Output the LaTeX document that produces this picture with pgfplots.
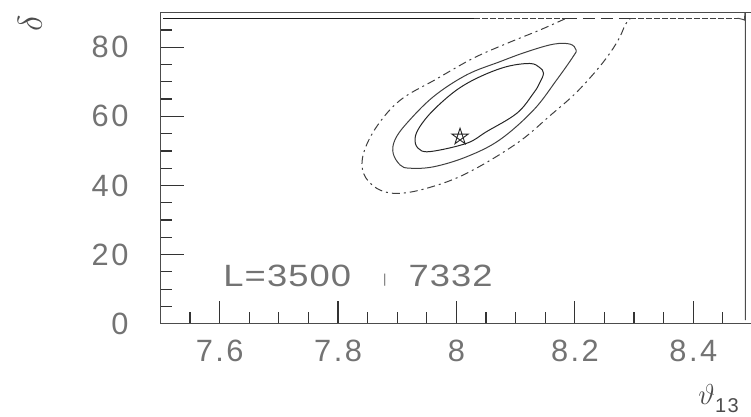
\documentclass[border=0pt]{standalone}
\usepackage{pgfplots}
\pgfplotsset{compat=1.18}
\usepackage{fontspec}
\setmainfont{Liberation Sans}[LetterSpace=8]
\newfontfamily\annfont{Liberation Sans}[LetterSpace=3]
\pgfdeclareplotmark{pentagram}{%
  \pgfpathmoveto{\pgfpointpolar{90}{\pgfplotmarksize}}%
  \pgfpathlineto{\pgfpointpolar{234}{\pgfplotmarksize}}%
  \pgfpathlineto{\pgfpointpolar{18}{\pgfplotmarksize}}%
  \pgfpathlineto{\pgfpointpolar{162}{\pgfplotmarksize}}%
  \pgfpathlineto{\pgfpointpolar{306}{\pgfplotmarksize}}%
  \pgfpathclose
  \pgfusepathqstroke}
\begin{document}
\begin{tikzpicture}
\begin{axis}[
  at={(80.25pt,46.65pt)}, anchor=south west,
  scale only axis, width=296pt, height=155.5pt,
  xmin=7.5, xmax=8.5, ymin=0, ymax=90,
  xtick={7.6,7.8,8,8.2,8.4}, ytick={0,20,40,60,80},
  minor xtick={7.55,7.65,7.7,7.75,7.85,7.9,7.95,8.05,8.1,8.15,8.25,8.3,8.35,8.45},
  minor ytick={5,10,15,25,30,35,45,50,55,65,70,75,85},
  tick pos=left, tick align=inside,
  major tick length=11.5pt, minor tick length=6pt,
  axis line style={black!70, line width=0.7pt},
  every tick/.style={black!80, line width=0.6pt},
  /pgf/number format/assume math mode=true,
  ticklabel style={font=\fontsize{15.4}{18}\selectfont, text=black!55},
  yticklabel style={xshift=-12.5pt},
  xticklabel style={yshift=-4.5pt},
]
% inner contour
\addplot[black!85, line width=0.5pt, smooth cycle, tension=0.6] coordinates {
(7.930,53.6) (7.938,57.0) (7.961,61.8) (8.000,67.6) (8.040,71.5) (8.085,74.4)
(8.124,75.3) (8.140,74.2) (8.147,72.5) (8.140,69.5) (8.130,66.7) (8.102,60.9)
(8.051,55.6) (8.017,52.2) (7.955,49.8) (7.935,50.8)};
% middle contour
\addplot[black!75, line width=0.5pt, smooth cycle, tension=0.6] coordinates {
(7.893,49.3) (7.896,53.2) (7.916,58.0) (7.961,65.7) (8.017,72.0) (8.073,75.8)
(8.119,78.7) (8.164,80.9) (8.192,80.9) (8.202,79.2) (8.197,77.3) (8.169,70.5)
(8.130,61.8) (8.073,53.2) (8.017,48.3) (7.961,45.4) (7.921,45.0) (7.905,45.9)};
% outer contour (dash-dot)
\addplot[black!75, line width=0.5pt, smooth, tension=0.6,
  dash pattern=on 4pt off 2pt on 1pt off 2pt] coordinates {
(8.183,88.2) (8.141,85.0) (8.085,81.1) (8.028,76.8) (7.965,70.7) (7.905,64.7)
(7.865,57.0) (7.843,49.3) (7.843,43.5) (7.865,39.2) (7.899,37.7) (7.950,39.2)
(8.017,43.5) (8.102,52.2) (8.160,60.5) (8.200,66.5) (8.235,73.0) (8.260,78.5)
(8.276,83.0) (8.285,86.5) (8.293,88.2)};
\addplot[black!80, line width=0.5pt, dash pattern=on 6pt off 3pt] coordinates {
(8.183,88.3) (8.293,88.3)};
% boundary contour
\addplot[black!90, line width=0.6pt] coordinates {(7.505,88.4) (8.03,88.4)};
\addplot[black!75, line width=0.5pt, dash pattern=on 3pt off 1pt] coordinates {
(8.03,88.4) (8.183,88.4)};
\addplot[black!75, line width=0.5pt, dash pattern=on 3pt off 1pt] coordinates {
(8.293,88.4) (8.475,88.4)};
\addplot[black!70, line width=0.5pt, smooth, tension=0.5] coordinates {
(8.475,88.4) (8.486,87.9) (8.488,87.0) (8.488,1.0)};
% best fit point
\addplot[black!85, line width=0.45pt, only marks, mark=pentagram, mark size=4.3pt] coordinates {(8.006,54.1)};
\end{axis}
\node[text=black!70, inner sep=0pt] at (15pt,197pt) {\rotatebox{90}{\fontsize{17}{20}\selectfont$\delta$}};
\node[anchor=base west, text=black!70, inner sep=0pt] at (349pt,6pt)
  {\fontsize{14}{16}\selectfont$\vartheta$\raisebox{-4pt}{\fontsize{10}{12}\selectfont 13}};
\node[anchor=base west, text=black!55, inner sep=0pt] at (111.5pt,65pt)
  {\annfont\fontsize{15.4}{18}\selectfont\scalebox{1.18}[1]{L=3500}\hspace{16pt}\raisebox{1.6pt}{\fontsize{6.5}{7}\selectfont |}\hspace{11pt}\scalebox{1.18}[1]{7332}};
\pgfresetboundingbox
\useasboundingbox (0,0) rectangle (375.5pt,208.5pt);
\end{tikzpicture}
\end{document}
